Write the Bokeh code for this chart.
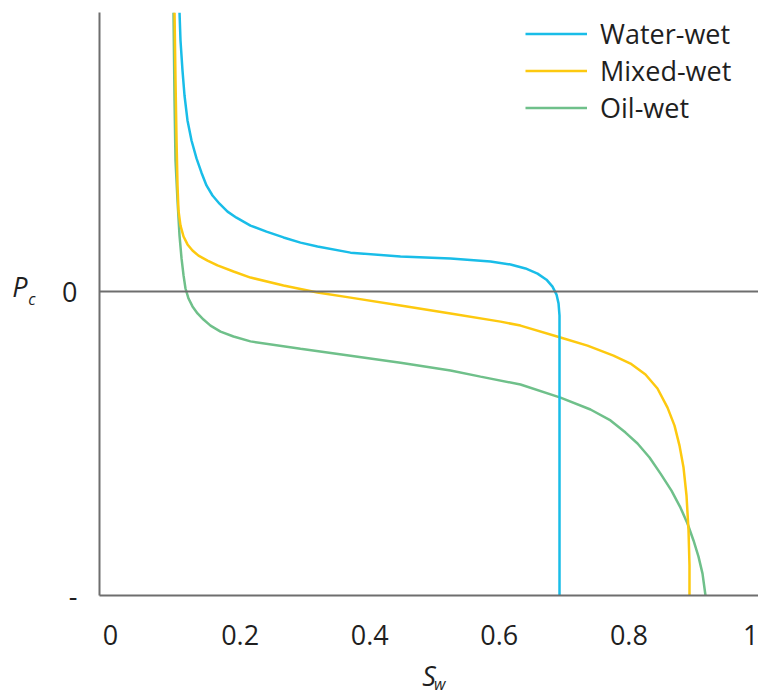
from bokeh.plotting import figure
from bokeh.models import (Range1d, FixedTicker, Span, Legend, LegendItem, LinearAxis)
from bokeh.embed import file_html
from bokeh.resources import INLINE

# ---- data ----
water_sw = [0.1065, 0.1080, 0.1111, 0.1142, 0.1188, 0.1250, 0.1327, 0.1404, 0.1481,
            0.1574, 0.1682, 0.1806, 0.1944, 0.2160, 0.2407, 0.2670, 0.2932, 0.3194,
            0.3704, 0.4475, 0.5247, 0.5864, 0.6173, 0.6404, 0.6590, 0.6728, 0.6821,
            0.6883, 0.6914, 0.6929, 0.6929, 0.6929]
water_pc = [0.918, 0.826, 0.727, 0.645, 0.563, 0.497, 0.438, 0.391, 0.349,
            0.316, 0.289, 0.263, 0.243, 0.217, 0.197, 0.178, 0.161, 0.148,
            0.128, 0.115, 0.109, 0.099, 0.089, 0.076, 0.059, 0.039, 0.016,
            -0.010, -0.039, -0.079, -0.128, -1.0]

mixed_sw = [0.0988, 0.1003, 0.1019, 0.1034, 0.1049, 0.1080, 0.1127, 0.1188, 0.1265,
            0.1358, 0.1497, 0.1651, 0.1898, 0.2160, 0.2670, 0.3194, 0.3704, 0.4475,
            0.5247, 0.6019, 0.6327, 0.6944, 0.7361, 0.7762, 0.8025, 0.8256, 0.8441,
            0.8596, 0.8704, 0.8781, 0.8843, 0.8889, 0.8920, 0.8935, 0.8935]
mixed_pc = [0.918, 0.694, 0.497, 0.349, 0.266, 0.217, 0.181, 0.155, 0.135,
            0.118, 0.102, 0.086, 0.066, 0.046, 0.020, -0.003, -0.020, -0.046,
            -0.072, -0.099, -0.112, -0.151, -0.178, -0.211, -0.237, -0.273, -0.319,
            -0.382, -0.441, -0.507, -0.579, -0.671, -0.786, -0.901, -1.0]

oil_sw = [0.0972, 0.0988, 0.1003, 0.1034, 0.1065, 0.1096, 0.1127, 0.1157, 0.1204,
          0.1265, 0.1343, 0.1435, 0.1543, 0.1698, 0.1898, 0.2160, 0.2932, 0.3704,
          0.4475, 0.5247, 0.5710, 0.6327, 0.6944, 0.7407, 0.7716, 0.7948, 0.8133,
          0.8318, 0.8488, 0.8657, 0.8796, 0.8904, 0.8997, 0.9074, 0.9136, 0.9182]
oil_pc = [0.918, 0.628, 0.431, 0.299, 0.184, 0.109, 0.053, 0.010, -0.023,
          -0.049, -0.072, -0.092, -0.112, -0.132, -0.148, -0.164, -0.188, -0.211,
          -0.234, -0.260, -0.280, -0.306, -0.349, -0.388, -0.424, -0.464, -0.500,
          -0.546, -0.599, -0.655, -0.711, -0.763, -0.819, -0.872, -0.928, -1.0]

x_ticks = [0, 0.2, 0.4, 0.6, 0.8, 1]
x_tick_labels = {0: "0", 0.2: "0.2", 0.4: "0.4", 0.6: "0.6", 0.8: "0.8", 1: "1"}
y_ticks = [-1, 0]
y_tick_labels = {-1: "-", 0: "0"}
series_names = ["Water-wet", "Mixed-wet", "Oil-wet"]
x_title, x_title_sub = "S", "w"
y_title, y_title_sub = "P", "c"

# ---- style / placement ----
FONT = "Open Sans"
TXT = "#1f1f1f"
AX = "#6e6e6e"
BLUE = "#19bde8"
YELLOW = "#fdc90f"
GREEN = "#6fc08a"
FS = "27px"
FS_SUB = "16px"
# anchor positions (axis units) of the axis-title pieces
X_SUB_POS = 0.508
Y_MAIN_POS = 0.015
Y_SUB_POS = -0.023

p = figure(width=758, height=698, output_backend="svg", toolbar_location=None,
           x_range=Range1d(-0.017, 1.0), y_range=Range1d(-1.0, 0.918),
           min_border_left=99, min_border_right=0, min_border_top=12,
           min_border_bottom=103)
p.outline_line_color = None
p.xgrid.visible = False
p.ygrid.visible = False
p.background_fill_color = "white"
p.border_fill_color = "white"


def style_axis(ax, ticks, labels, size=FS, italic=False, line=True):
    ax.ticker = FixedTicker(ticks=ticks)
    ax.major_label_overrides = labels
    ax.major_tick_line_color = None
    ax.minor_tick_line_color = None
    ax.major_tick_out = 0
    ax.major_tick_in = 0
    ax.axis_line_color = AX if line else None
    ax.axis_line_width = 2
    ax.major_label_text_font = FONT
    ax.major_label_text_font_size = size
    ax.major_label_text_color = TXT
    if italic:
        ax.major_label_text_font_style = "italic"


style_axis(p.xaxis[0], x_ticks, x_tick_labels)
style_axis(p.yaxis[0], y_ticks, y_tick_labels)
p.xaxis.major_label_standoff = 29
p.yaxis.major_label_standoff = 22

# x-axis title "S" with subscript "w"
xa = p.xaxis[0]
xa.axis_label = x_title
xa.axis_label_text_font = FONT
xa.axis_label_text_font_size = FS
xa.axis_label_text_font_style = "italic"
xa.axis_label_text_color = TXT
xa.axis_label_standoff = 9

x_sub = LinearAxis()
style_axis(x_sub, [X_SUB_POS], {X_SUB_POS: x_title_sub}, size=FS_SUB, italic=True, line=False)
x_sub.major_label_standoff = -24
p.add_layout(x_sub, "below")

# y-axis title "P" with subscript "c"
y_sub = LinearAxis()
style_axis(y_sub, [Y_SUB_POS], {Y_SUB_POS: y_title_sub}, size=FS_SUB, italic=True, line=False)
y_sub.major_label_standoff = 24
p.add_layout(y_sub, "left")

y_main = LinearAxis()
style_axis(y_main, [Y_MAIN_POS], {Y_MAIN_POS: y_title}, size=FS, italic=True, line=False)
y_main.major_label_standoff = -2
p.add_layout(y_main, "left")

p.add_layout(Span(location=0, dimension="width", line_color=AX, line_width=2))

r_oil = p.line(oil_sw, oil_pc, line_color=GREEN, line_width=2.5)
r_mixed = p.line(mixed_sw, mixed_pc, line_color=YELLOW, line_width=2.5)
r_water = p.line(water_sw, water_pc, line_color=BLUE, line_width=2.5)

legend = Legend(items=[LegendItem(label=series_names[0], renderers=[r_water]),
                       LegendItem(label=series_names[1], renderers=[r_mixed]),
                       LegendItem(label=series_names[2], renderers=[r_oil])],
                location=(426, 469), padding=0, margin=0, spacing=0,
                glyph_width=62, glyph_height=37, label_height=37,
                label_standoff=13, border_line_color=None,
                background_fill_alpha=0)
legend.label_text_font = FONT
legend.label_text_font_size = FS
legend.label_text_color = TXT
p.add_layout(legend)

open("out.html", "w").write(file_html(p, INLINE))
